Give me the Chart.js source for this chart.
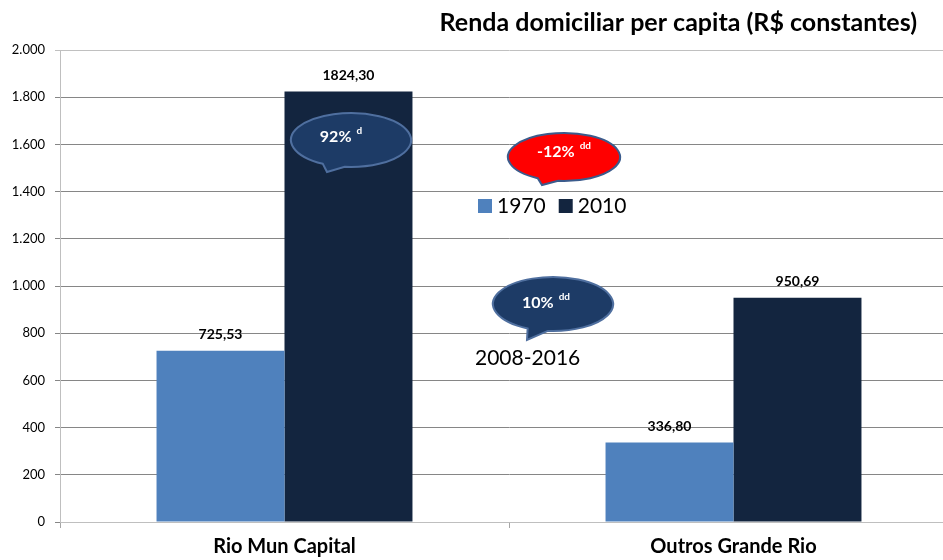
<!DOCTYPE html>
<html>
<head>
<meta charset="utf-8">
<script src="https://cdn.jsdelivr.net/npm/chart.js@4.4.0/dist/chart.umd.min.js"></script>
<style>
  body { margin: 0; overflow: hidden; background: #fff; }
  #wrap { width: 960px; height: 560px; }
</style>
</head>
<body>
<div id="wrap"><canvas id="theChart" width="960" height="560"></canvas></div>
<script>
const categories = ["Rio Mun Capital", "Outros Grande Rio"]
const seriesNames = ["1970", "2010"]
const values1970 = [725.53, 336.80]
const values2010 = [1824.30, 950.69]
const barColors = ["#4f81bd", "#13253f"]
const titleText = "Renda domiciliar per capita (R$ constantes)"

// speech bubbles drawn over the plot (pixel positions)
const bubbles = [
  { cx: 351, cy: 140, rx: 60, ry: 27, a1: 118, a2: 96, tipX: 327, tipY: 172, fill: "#1d3b66", stroke: "#4f6f9f", text: "92%", sup: "d", tx: 341, ty: 137 },
  { cx: 564, cy: 157, rx: 56, ry: 24, a1: 118, a2: 96, tipX: 542, tipY: 185, fill: "#ff0000", stroke: "#3b5b8c", text: "-12%", sup: "dd", tx: 564, ty: 152 },
  { cx: 553, cy: 304, rx: 60, ry: 27, a1: 115, a2: 95, tipX: 527, tipY: 340, fill: "#1d3b66", stroke: "#4f6f9f", text: "10%", sup: "dd", tx: 546, ty: 303 }
]

let fontName = "Lato"

function formatValue(v) {
  return v.toFixed(2).replace(".", ",")
}

function drawBubble(ctx, b) {
  ctx.save()
  let r = Math.PI / 180
  ctx.beginPath()
  ctx.ellipse(b.cx, b.cy, b.rx, b.ry, 0, b.a1 * r, (b.a2 + 360) * r, false)
  ctx.lineTo(b.tipX, b.tipY)
  ctx.closePath()
  ctx.fillStyle = b.fill
  ctx.fill()
  ctx.lineWidth = 2
  ctx.strokeStyle = b.stroke
  ctx.stroke()
  // text with small superscript
  ctx.fillStyle = "#fff"
  ctx.textBaseline = "middle"
  ctx.font = "bold 16px " + fontName
  let w1 = ctx.measureText(b.text).width
  ctx.font = "bold 10px " + fontName
  let w2 = ctx.measureText(b.sup).width
  let x0 = b.tx - (w1 + 5 + w2) / 2
  ctx.font = "bold 16px " + fontName
  ctx.textAlign = "left"
  ctx.fillText(b.text, x0, b.ty)
  ctx.font = "bold 10px " + fontName
  ctx.fillText(b.sup, x0 + w1 + 5, b.ty - 6)
  ctx.restore()
}

const extrasPlugin = {
  id: "extras",
  afterDatasetsDraw(chart) {
    let ctx = chart.ctx
    ctx.save()
    // value labels above bars
    ctx.font = "bold 14px " + fontName
    ctx.fillStyle = "#000"
    ctx.textAlign = "center"
    ctx.textBaseline = "middle"
    chart.data.datasets.forEach((ds, i) => {
      chart.getDatasetMeta(i).data.forEach((bar, j) => {
        ctx.fillText(formatValue(ds.data[j]), bar.x, bar.y - 16)
      })
    })
    // title
    ctx.font = "bold 25px " + fontName
    ctx.textAlign = "right"
    ctx.textBaseline = "alphabetic"
    ctx.fillText(titleText, 917, 31)
    // legend
    ctx.textBaseline = "middle"
    ctx.font = "21px " + fontName
    ctx.textAlign = "left"
    let lx = 478
    chart.data.datasets.forEach((ds) => {
      ctx.fillStyle = ds.backgroundColor
      ctx.fillRect(lx, 199, 14, 14)
      ctx.fillStyle = "#000"
      ctx.fillText(ds.label, lx + 19, 206)
      lx += 19 + ctx.measureText(ds.label).width + 13
    })
    ctx.fillText("2008-2016", 475, 358)
    ctx.restore()
    bubbles.forEach((b) => drawBubble(ctx, b))
  }
}

let chart = new Chart(document.getElementById("theChart").getContext("2d"), {
  type: "bar",
  data: {
    labels: categories,
    datasets: [
      { label: seriesNames[0], data: values1970, backgroundColor: barColors[0], borderWidth: 0 },
      { label: seriesNames[1], data: values2010, backgroundColor: barColors[1], borderWidth: 0 }
    ]
  },
  options: {
    responsive: false,
    animation: false,
    layout: { padding: { top: 50, right: 2, left: 0, bottom: 0 } },
    categoryPercentage: 0.57,
    barPercentage: 1,
    plugins: {
      legend: { display: false },
      tooltip: { enabled: false }
    },
    scales: {
      x: {
        grid: { offset: true, drawOnChartArea: false, tickLength: 6, color: "#a6a6a6" },
        border: { color: "#bfbfbf" },
        ticks: { color: "#000", padding: 7, font: { family: fontName, size: 20, weight: "bold" } },
        afterFit(scale) { scale.height = 38 }
      },
      y: {
        min: 0,
        max: 2000,
        ticks: {
          stepSize: 200,
          color: "#000",
          padding: 10,
          font: { family: fontName, size: 13 },
          callback: (v) => v.toLocaleString("de-DE")
        },
        grid: {
          tickLength: 5,
          color: (c) => c.tick && c.tick.value === 2000 ? "#c0c0c0" : "#868686"
        },
        border: { color: "#bfbfbf" },
        afterFit(scale) { scale.width = 60 }
      }
    }
  },
  plugins: [extrasPlugin]
})
</script>
</body>
</html>
